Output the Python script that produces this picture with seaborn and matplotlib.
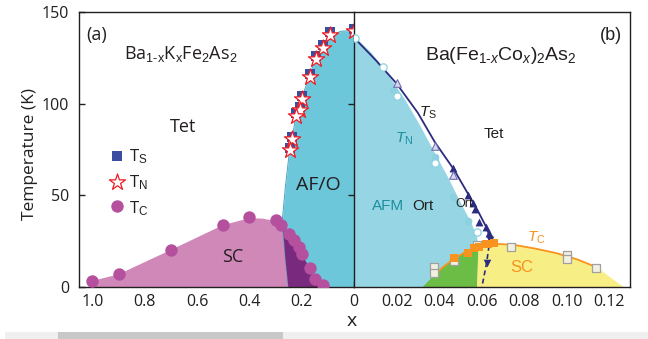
import numpy as np
import pandas as pd
import matplotlib
matplotlib.use('Agg')
import matplotlib.pyplot as plt
import seaborn as sns
from matplotlib.patches import Rectangle
from matplotlib.ticker import FixedLocator, FixedFormatter

# ---------------- panel (a): Ba1-xKxFe2As2 ----------------
k_x_ts = [0.0, 0.092, 0.119, 0.147, 0.170, 0.200, 0.208, 0.222, 0.236, 0.246]
k_ts = [141.0, 139.0, 132.0, 126.0, 116.0, 104.0, 98.0, 95.0, 82.0, 76.0]
k_x_tn = [0.0, 0.092, 0.119, 0.147, 0.170, 0.200, 0.208, 0.222, 0.236, 0.246]
k_tn = [139.5, 137.5, 130.5, 124.5, 114.5, 102.5, 96.5, 93.5, 80.5, 74.5]
k_x_tc = [1.0, 0.9, 0.7, 0.5, 0.4, 0.3, 0.28, 0.25, 0.23, 0.21, 0.2, 0.17, 0.15, 0.12]
k_tc = [3.3, 6.9, 20.2, 33.8, 38.0, 36.5, 34.0, 29.0, 25.5, 22.0, 18.0, 10.5, 4.5, 1.2]
# AF/O phase boundary
k_af_T = [0, 15, 30, 38, 55, 75, 81, 94, 103, 115, 125, 131, 137, 139.5, 140]
k_af_x = [0.251, 0.262, 0.272, 0.273, 0.262, 0.246, 0.236, 0.222, 0.2, 0.17, 0.147, 0.119, 0.092, 0.05, 0.0]
# SC dome (overdoped side) top edge
k_sc_x = [1.015, 1.0, 0.9, 0.7, 0.5, 0.4, 0.35, 0.3, 0.272, 0.272, 0.262, 0.251]
k_sc_T = [0, 3.3, 6.9, 20.2, 33.8, 37.5, 37.3, 36.0, 33.0, 30.0, 15.0, 0]
# coexistence region
k_co_x = [0.251, 0.262, 0.272, 0.25, 0.23, 0.21, 0.2, 0.17, 0.15, 0.12, 0.108]
k_co_T = [0, 15, 33, 29, 25.5, 22, 18, 10.5, 4.5, 1.2, 0]

# ---------------- panel (b): Ba(Fe1-xCox)2As2 ----------------
c_afm_x = [0, 0.008, 0.016, 0.024, 0.031, 0.037, 0.044, 0.05, 0.055, 0.0575, 0.0585, 0.0578]
c_afm_T = [137, 128, 116, 102, 88, 75, 60, 46, 35, 28, 21, 0]
c_ts_x = [0, 0.01, 0.02, 0.03, 0.038, 0.047, 0.054, 0.058, 0.062, 0.0640]
c_ts_T = [136, 124, 111, 95, 79, 64, 50, 42, 33, 27]
c_tsd_x = [0.0640, 0.0623, 0.0601]
c_tsd_T = [27, 13, 0]
c_tc_x = [0.0323, 0.0373, 0.042, 0.047, 0.052, 0.0585, 0.062, 0.067, 0.075, 0.085, 0.095, 0.105, 0.114]
c_tc_T = [0, 6, 11, 15.5, 18.8, 22.0, 23.0, 23.5, 23.0, 21.0, 18.5, 15.0, 10.8]
c_sc_end = [0.1266, 0.0]
c_gy_x = [0.0585, 0.0578]
c_gy_T = [22.0, 0.0]
c_ts_fill_x = [0.0467, 0.0537, 0.0561, 0.0569, 0.0589, 0.0619, 0.0635]
c_ts_fill = [64.7, 50.2, 45.6, 42.3, 35.6, 32.7, 29.3]
c_ts_open_x = [0.02, 0.038, 0.0467]
c_ts_open = [111, 77, 61]
c_tn_fill_x = [0.0185, 0.038, 0.0467, 0.0537]
c_tn_fill = [107.5, 71, 49.3, 36.2]
c_tn_open_x = [0.0005, 0.0138, 0.02, 0.038, 0.0577]
c_tn_open = [136, 120, 104, 67.5, 30.2]
c_tcs_x = [0.047, 0.0537, 0.0566, 0.0589, 0.0619, 0.0628, 0.0658]
c_tcs = [15.6, 18.4, 21.1, 22.0, 23.5, 23.6, 24.2]
c_tcg_x = [0.0376, 0.0376, 0.047, 0.0577, 0.0737, 0.1, 0.1, 0.1138]
c_tcg = [10.7, 7.8, 14.0, 22.9, 21.8, 17.3, 15.5, 10.2]

left_ticks = [1.0, 0.8, 0.6, 0.4, 0.2]
left_labels = ['1.0', '0.8', '0.6', '0.4', '0.2']
right_ticks = [0, 0.02, 0.04, 0.06, 0.08, 0.10, 0.12]
right_labels = ['0', '0.02', '0.04', '0.06', '0.08', '0.10', '0.12']
y_ticks = [0, 50, 100, 150]

# ---------------- style ----------------
sns.set_theme(style='white')
plt.rcParams['font.family'] = ['Open Sans', 'DejaVu Sans']
plt.rcParams['mathtext.fontset'] = 'custom'
plt.rcParams['mathtext.rm'] = 'Liberation Sans'
plt.rcParams['mathtext.it'] = 'Liberation Sans:italic'
plt.rcParams['axes.edgecolor'] = '#231F20'
plt.rcParams['axes.linewidth'] = 1.0

W, H = 648, 339
fig = plt.figure(figsize=(W / 100, H / 100), dpi=100)

def px(x, y):
    return x / W, 1 - y / H

x0, x1, x2 = 79, 354, 630
ytop, ybot = 12, 287
axL = fig.add_axes([x0 / W, (H - ybot) / H, (x1 - x0) / W, (ybot - ytop) / H])
axR = fig.add_axes([x1 / W, (H - ybot) / H, (x2 - x1) / W, (ybot - ytop) / H])

# colors
CYAN = '#6CC7DB'
PINK = '#D088B9'
DPURP = '#7A2A7E'
PURP = '#B5509F'
NAVY = '#2B2C80'
BLUE = '#3B4DA0'
RED = '#ED1C24'
LCYAN = '#96D6E4'
CCIRC = '#8DD0E0'
GREEN = '#6BBD45'
YELLOW = '#F7EF85'
ORANGE = '#F7931E'
TEAL = '#1C8F9E'

# ---------- panel (a) ----------
axL.fill(k_sc_x, k_sc_T, color=PINK, lw=0, zorder=1)
axL.fill_betweenx(k_af_T, k_af_x, 0, color=CYAN, lw=0, zorder=1)
axL.plot(k_af_x, k_af_T, color='#4AA5C4', lw=0.7, zorder=1.5)
axL.fill(k_co_x, k_co_T, color=DPURP, lw=0, zorder=2)

sns.scatterplot(x=k_x_tc, y=k_tc, ax=axL, marker='o', s=80, color=PURP,
                edgecolor=PURP, linewidth=0, zorder=4, legend=False)
sns.scatterplot(x=k_x_ts, y=k_ts, ax=axL, marker='s', s=60, color=BLUE,
                edgecolor=BLUE, linewidth=0, zorder=5, legend=False)
sns.scatterplot(x=k_x_tn, y=k_tn, ax=axL, marker='*', s=150, color='white',
                edgecolor=RED, linewidth=0.9, zorder=6, legend=False)

axL.set_xlim(1.051, 0)
axL.set_ylim(0, 150)
axL.spines['right'].set_visible(False)
axL.xaxis.set_major_locator(FixedLocator(left_ticks))
axL.xaxis.set_major_formatter(FixedFormatter(left_labels))
axL.xaxis.set_minor_locator(FixedLocator([1.0, 0.9, 0.7, 0.5, 0.3, 0.1]))
axL.yaxis.set_major_locator(FixedLocator(y_ticks))
axL.tick_params(axis='x', which='both', direction='in', length=4, width=1.0,
                color='#231F20', bottom=True, labelsize=11.5, pad=5, labelcolor='#231F20')
axL.tick_params(axis='y', which='major', direction='in', length=4.5, width=1.0,
                color='#231F20', left=True, labelsize=11.5, pad=7, labelcolor='#231F20')
axL.set_xlabel('')
axL.set_ylabel('')

# ---------- panel (b) ----------
axR.fill_betweenx(c_afm_T, c_afm_x, 0, color=LCYAN, lw=0, zorder=1)
n_g = sum(1 for v in c_tc_x if v <= 0.0585)
axR.fill(c_tc_x[:n_g] + c_gy_x[1:], c_tc_T[:n_g] + c_gy_T[1:], color=GREEN, lw=0, zorder=2)
axR.fill(c_gy_x[::-1] + c_tc_x[n_g - 1:] + [c_sc_end[0]],
         c_gy_T[::-1] + c_tc_T[n_g - 1:] + [c_sc_end[1]], color=YELLOW, lw=0, zorder=2)

sns.lineplot(x=c_tc_x[1:], y=c_tc_T[1:], ax=axR, sort=False, estimator=None,
             color=ORANGE, lw=1.3, zorder=3)
sns.lineplot(x=c_ts_x, y=c_ts_T, ax=axR, sort=False, estimator=None,
             color=NAVY, lw=1.3, zorder=3)
sns.lineplot(x=c_tsd_x, y=c_tsd_T, ax=axR, sort=False, estimator=None,
             color=NAVY, lw=1.2, zorder=3, linestyle=(0, (3, 2)))
sns.scatterplot(x=[c_tsd_x[0], c_tsd_x[1]], y=[c_tsd_T[0] - 1.5, c_tsd_T[1]], ax=axR,
                marker='v', s=30, color=NAVY, linewidth=0, zorder=4, legend=False)

sns.scatterplot(x=c_tn_fill_x, y=c_tn_fill, ax=axR, marker='o', s=30, color=CCIRC,
                linewidth=0, zorder=4, legend=False)
sns.scatterplot(x=c_tn_open_x, y=c_tn_open, ax=axR, marker='o', s=28, color='white',
                edgecolor=CCIRC, linewidth=0.9, zorder=4, legend=False)
sns.scatterplot(x=c_ts_fill_x, y=c_ts_fill, ax=axR, marker='^', s=32, color=NAVY,
                linewidth=0, zorder=5, legend=False)
sns.scatterplot(x=c_ts_open_x, y=c_ts_open, ax=axR, marker='^', s=30, color='#D8D8F0',
                edgecolor='#7070B0', linewidth=0.8, zorder=5, legend=False)
sns.scatterplot(x=c_tcg_x, y=c_tcg, ax=axR, marker='s', s=28, color='#F4F0E0',
                edgecolor='#A0A0A0', linewidth=0.9, zorder=5, legend=False)
sns.scatterplot(x=c_tcs_x, y=c_tcs, ax=axR, marker='s', s=34, color=ORANGE,
                linewidth=0, zorder=6, legend=False)

axR.set_xlim(0, 0.1297)
axR.set_ylim(0, 150)
axR.xaxis.set_major_locator(FixedLocator(right_ticks))
axR.xaxis.set_major_formatter(FixedFormatter(right_labels))
axR.xaxis.set_minor_locator(FixedLocator([0.01, 0.03, 0.05, 0.07, 0.09, 0.11]))
axR.yaxis.set_major_locator(FixedLocator([50, 100]))
axR.tick_params(axis='x', which='both', direction='in', length=4, width=1.0,
                color='#231F20', bottom=True, labelsize=11.5, pad=5, labelcolor='#231F20')
axR.tick_params(axis='y', which='major', direction='inout', length=8, width=1.0,
                color='#231F20', left=True, labelleft=False)
axR.set_xlabel('')
axR.set_ylabel('')

for ax in (axL, axR):
    for lab in ax.get_xticklabels() + ax.get_yticklabels():
        lab.set_family(['Open Sans', 'DejaVu Sans'])

# ---------- texts ----------
K = '#231F20'
fig.text(*px(97, 35), '(a)', ha='center', va='center', fontsize=13, color=K)
fig.text(*px(181, 54), r'Ba$_{\mathrm{1\text{-}x}}$K$_{\mathrm{x}}$Fe$_{\mathrm{2}}$As$_{\mathrm{2}}$',
         ha='center', va='center', fontsize=13, color=K)
fig.text(*px(183, 127), 'Tet', ha='center', va='center', fontsize=13, color=K)
# legend of panel (a)
sns.scatterplot(x=[0.905], y=[71.5], ax=axL, marker='s', s=60, color=BLUE, linewidth=0,
                zorder=6, legend=False)
sns.scatterplot(x=[0.905], y=[57.5], ax=axL, marker='*', s=150, color='white',
                edgecolor=RED, linewidth=0.9, zorder=6, legend=False)
sns.scatterplot(x=[0.905], y=[44], ax=axL, marker='o', s=80, color=PURP, linewidth=0,
                zorder=6, legend=False)
fig.text(*px(129, 157), r'T$_{\mathrm{S}}$', ha='left', va='center', fontsize=12, color=K)
fig.text(*px(129, 183), r'T$_{\mathrm{N}}$', ha='left', va='center', fontsize=12, color=K)
fig.text(*px(129, 209), r'T$_{\mathrm{C}}$', ha='left', va='center', fontsize=12, color=K)
fig.text(*px(318, 185), 'AF/O', ha='center', va='center', fontsize=14, color=K)
fig.text(*px(233, 257), 'SC', ha='center', va='center', fontsize=13, color=K)

RF = ['Liberation Sans', 'DejaVu Sans']
fig.text(*px(611, 35), '(b)', ha='center', va='center', fontsize=13, color=K, family=RF)
fig.text(*px(501, 56), r'Ba(Fe$_{1\text{-}\mathit{x}}$Co$_{\mathit{x}}$)$_{2}$As$_{2}$',
         ha='center', va='center', fontsize=14, color=K, family=RF)
fig.text(*px(428, 113), r'$\mathit{T}_{\mathrm{S}}$', ha='center', va='center', fontsize=11,
         color=K, family=RF)
fig.text(*px(494, 134), 'Tet', ha='center', va='center', fontsize=11, color=K, family=RF)
fig.text(*px(404, 139), r'$\mathit{T}_{\mathrm{N}}$', ha='center', va='center', fontsize=11,
         color=TEAL, family=RF)
fig.text(*px(388, 206), 'AFM', ha='center', va='center', fontsize=11, color=TEAL, family=RF)
fig.text(*px(423, 206), 'Ort', ha='center', va='center', fontsize=11, color=K, family=RF)
fig.text(*px(464, 204), 'Ort', ha='center', va='center', fontsize=9, color=K, family=RF)
fig.text(*px(536, 238), r'$\mathit{T}_{\mathrm{C}}$', ha='center', va='center', fontsize=11,
         color=ORANGE, family=RF)
fig.text(*px(522, 268), 'SC', ha='center', va='center', fontsize=12, color=ORANGE, family=RF)

fig.text(*px(30, 154), 'Temperature (K)', ha='center', va='center', rotation=90,
         fontsize=12.5, color=K)
fig.text(*px(352, 321), 'x', ha='center', va='center', fontsize=14, color=K)

# bottom gray bar
fig.patches.append(Rectangle(px(5, 339), (W - 5) / W, 7 / H, transform=fig.transFigure,
                             color='#EFEFEF', lw=0, zorder=0))
fig.patches.append(Rectangle(px(58, 339), (283 - 58) / W, 7 / H, transform=fig.transFigure,
                             color='#C8C8C8', lw=0, zorder=0))

fig.savefig('out.png', dpi=100)
